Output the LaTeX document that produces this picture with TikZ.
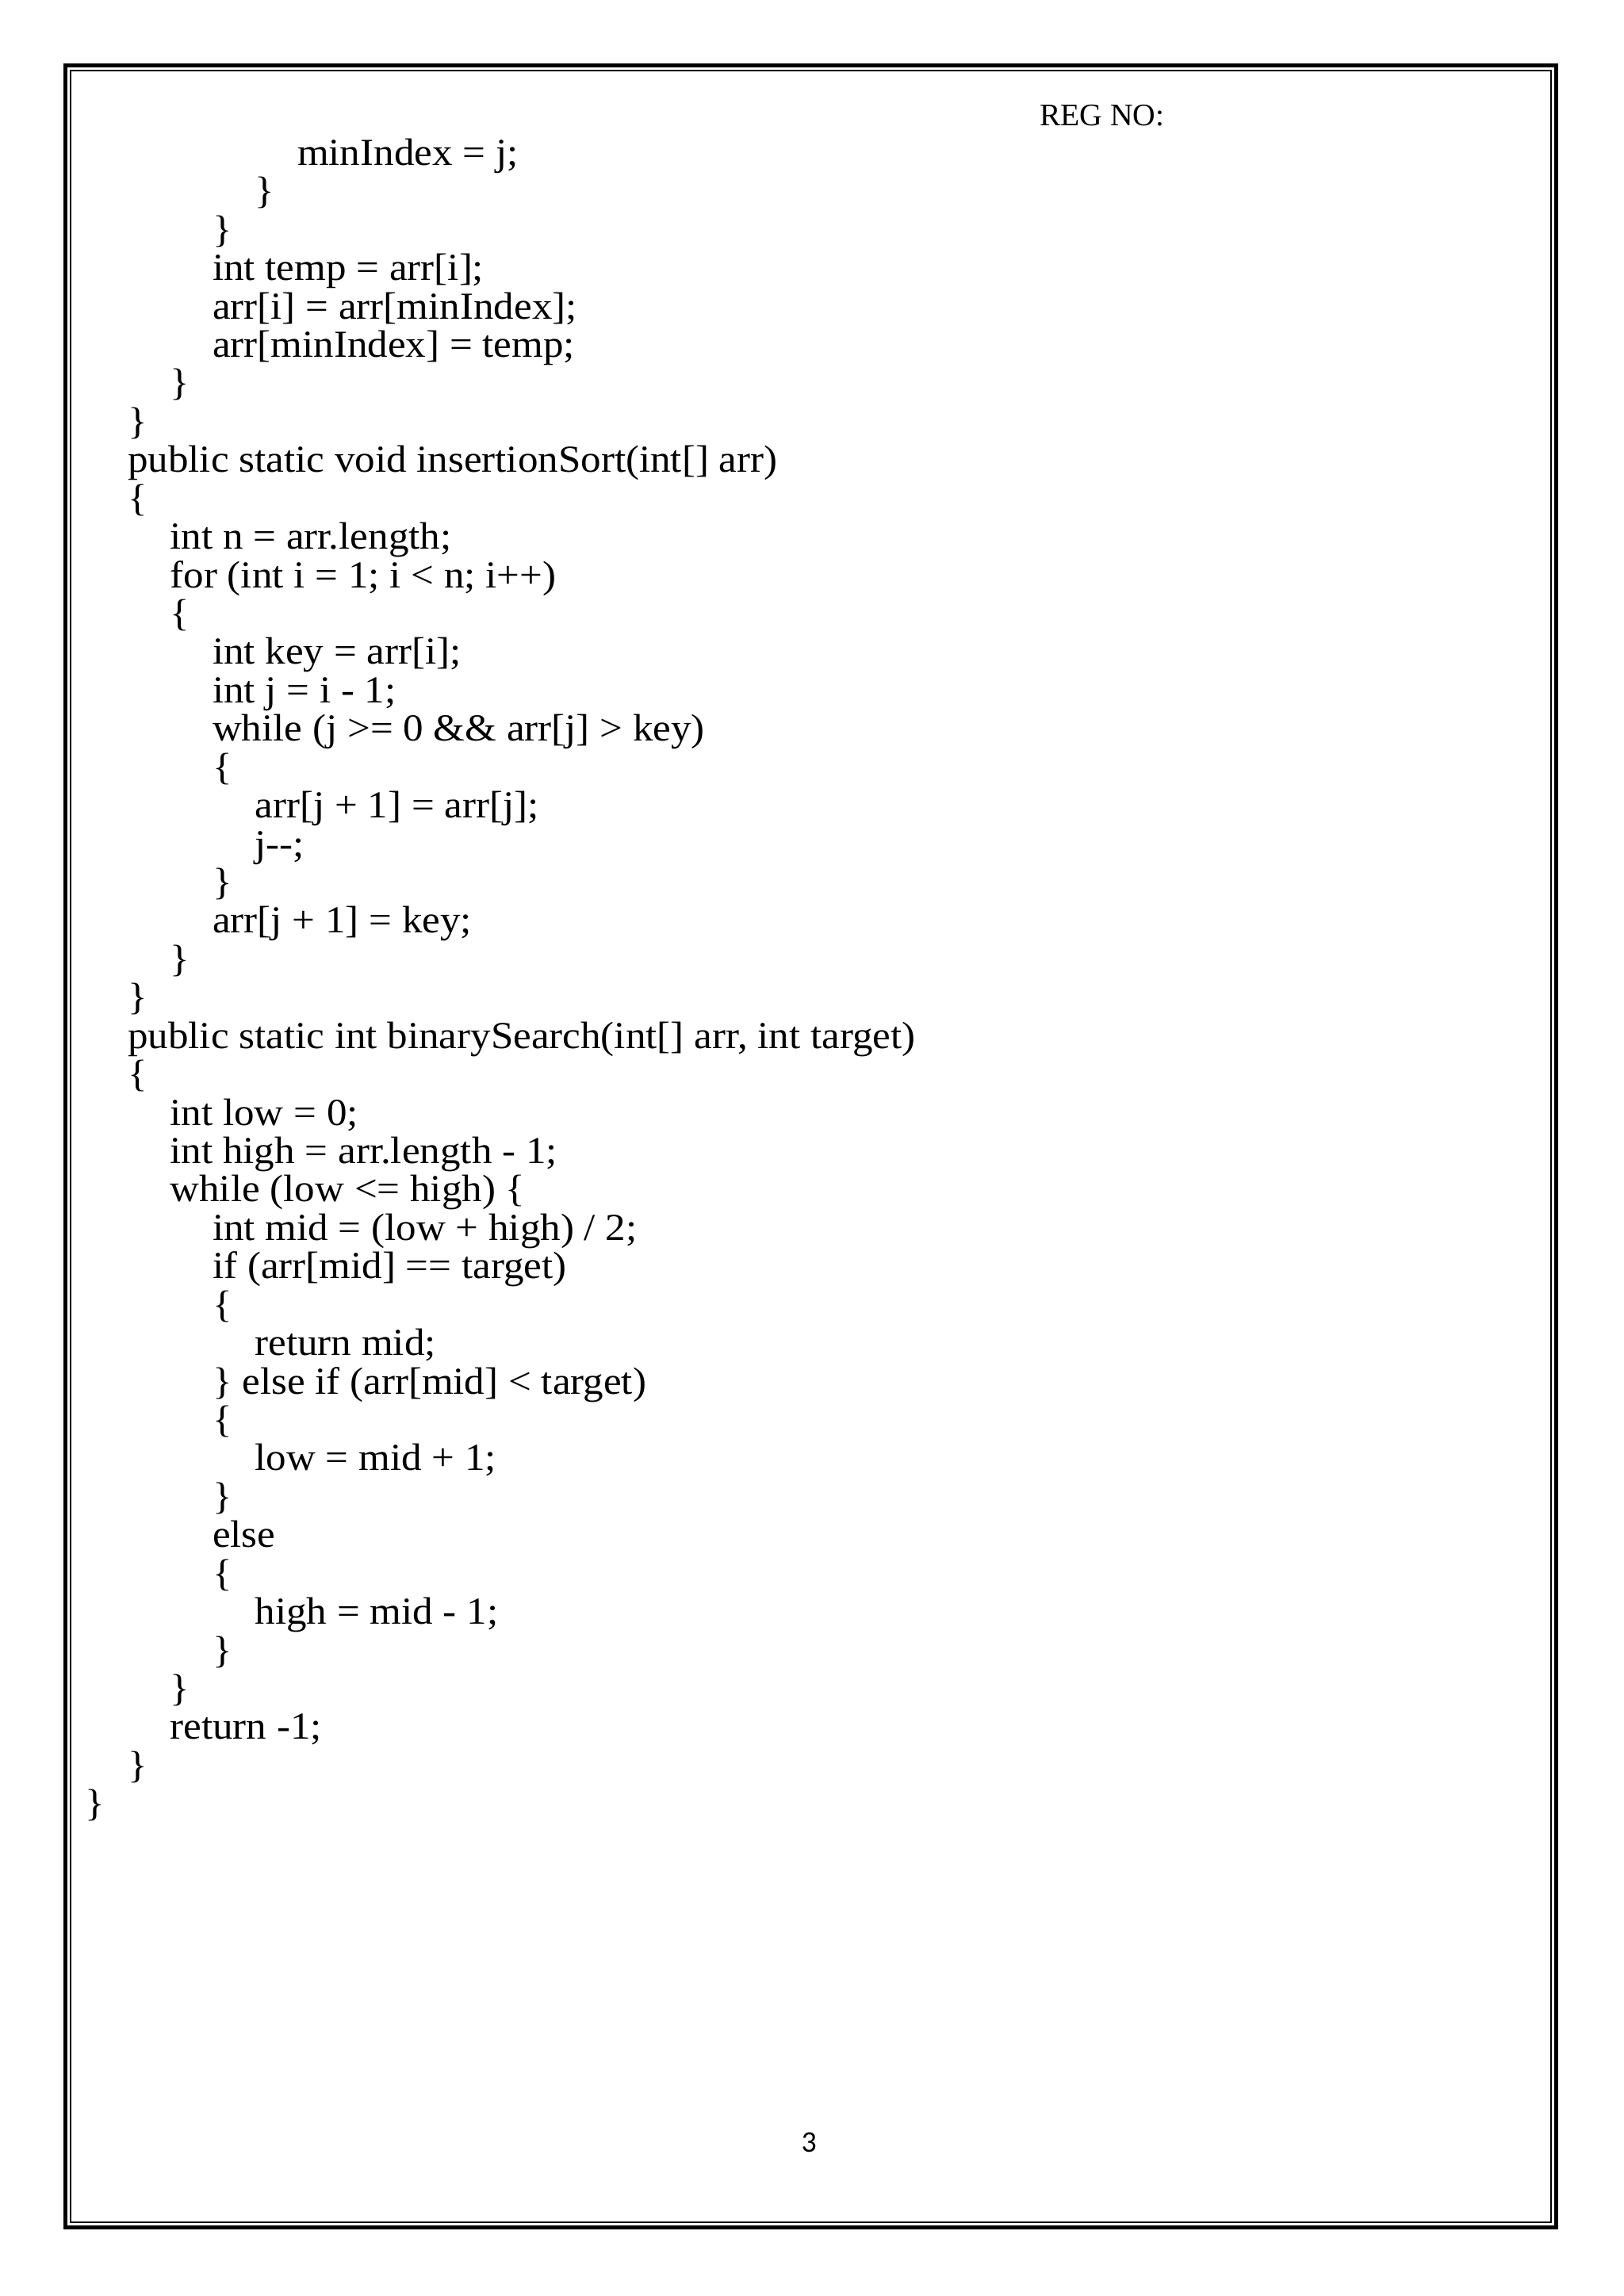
\documentclass[tikz,border=0pt]{standalone}
\usepackage{fontspec}
\setmainfont{Liberation Serif}
\newfontfamily\codefont[FakeStretch=1.06]{Liberation Serif}
\newfontfamily\pagenumfont{Carlito}
\begin{document}
\begin{tikzpicture}[x=1pt,y=1pt,
  code/.style={anchor=base west, inner sep=0pt, font=\codefont\fontsize{14}{16}\selectfont}]
\useasboundingbox[fill=white] (0,0) rectangle (595.3,-842);
\draw[line width=1.4pt] (24.1,-24.1) rectangle (570.6,-816.8);
\draw[line width=0.6pt] (26.0,-26.0) rectangle (568.7,-814.9);
\newcommand{\cl}[3]{\node[code] (l#1) at ({31.1+15.55*#2}, {-60.6-14.08*(#1-1)}) {#3};}
\node[anchor=base west, inner sep=0pt, font=\fontsize{11.5}{13}\selectfont] (reg) at (381,-46.1) {REG NO:};
\cl{1}{5}{minIndex = j;}
\cl{2}{4}{\}}
\cl{3}{3}{\}}
\cl{4}{3}{int temp = arr[i];}
\cl{5}{3}{arr[i] = arr[minIndex];}
\cl{6}{3}{arr[minIndex] = temp;}
\cl{7}{2}{\}}
\cl{8}{1}{\}}
\cl{9}{1}{public static void insertionSort(int[] arr)}
\cl{10}{1}{\{}
\cl{11}{2}{int n = arr.length;}
\cl{12}{2}{for (int i = 1; i < n; i++)}
\cl{13}{2}{\{}
\cl{14}{3}{int key = arr[i];}
\cl{15}{3}{int j = i - 1;}
\cl{16}{3}{while (j >= 0 \&\& arr[j] > key)}
\cl{17}{3}{\{}
\cl{18}{4}{arr[j + 1] = arr[j];}
\cl{19}{4}{j-{}-;}
\cl{20}{3}{\}}
\cl{21}{3}{arr[j + 1] = key;}
\cl{22}{2}{\}}
\cl{23}{1}{\}}
\cl{24}{1}{public static int binarySearch(int[] arr, int target)}
\cl{25}{1}{\{}
\cl{26}{2}{int low = 0;}
\cl{27}{2}{int high = arr.length - 1;}
\cl{28}{2}{while (low <= high) \{}
\cl{29}{3}{int mid = (low + high) / 2;}
\cl{30}{3}{if (arr[mid] == target)}
\cl{31}{3}{\{}
\cl{32}{4}{return mid;}
\cl{33}{3}{\} else if (arr[mid] < target)}
\cl{34}{3}{\{}
\cl{35}{4}{low = mid + 1;}
\cl{36}{3}{\}}
\cl{37}{3}{else}
\cl{38}{3}{\{}
\cl{39}{4}{high = mid - 1;}
\cl{40}{3}{\}}
\cl{41}{2}{\}}
\cl{42}{2}{return -1;}
\cl{43}{1}{\}}
\cl{44}{0}{\}}
\node[inner sep=0pt, font=\pagenumfont\fontsize{11}{13}\selectfont] (pg) at (296.6,-785.7) {3};
\end{tikzpicture}
\end{document}
